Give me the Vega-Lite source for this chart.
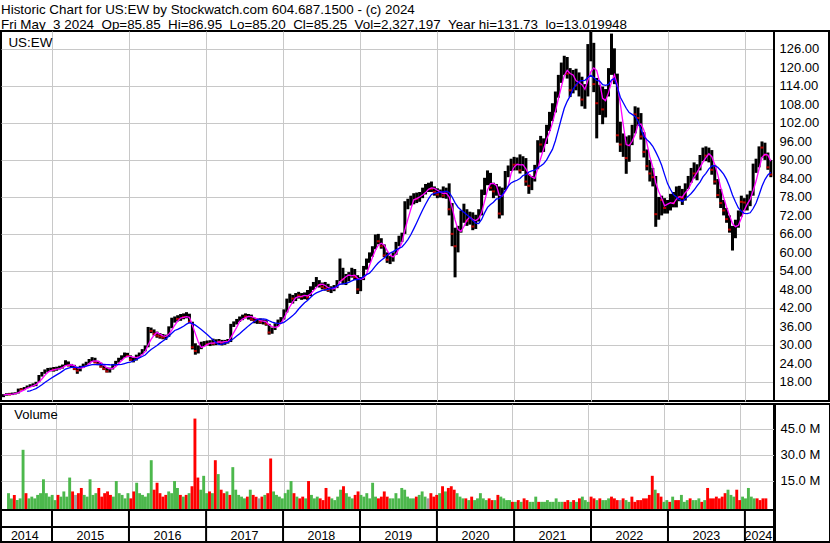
{
"$schema": "https://vega.github.io/schema/vega-lite/v6.json",
"padding": {"left": 0, "top": 3, "right": 0, "bottom": 0},
"background": "white",
"title": {"text": ["Historic Chart for US:EW by Stockwatch.com 604.687.1500 - (c) 2024", "Fri May \u00a03 2024 \u00a0Op=85.85 \u00a0Hi=86.95 \u00a0Lo=85.20 \u00a0Cl=85.25 \u00a0Vol=2,327,197 \u00a0Year hi=131.73 \u00a0lo=13.019948"], "anchor": "start", "frame": "bounds", "fontSize": 13.4, "font": "Liberation Sans", "fontWeight": "normal", "color": "black", "lineHeight": 14.5, "offset": -1, "dx": 1},
"config": {"view": {"stroke": "black", "strokeWidth": 2}, "font": "Liberation Sans", "axis": {"minExtent": 0, "maxExtent": 0}},
"datasets": {
"p": [
{"t":"2014-05-16","h":14.0,"l":13.02,"c":13.7,"v":8,"s":"g"},
{"t":"2014-05-30","h":14.3,"l":13.5,"c":14.1,"v":5,"s":"g"},
{"t":"2014-06-13","h":14.4,"l":13.6,"c":13.9,"v":7,"s":"r"},
{"t":"2014-06-27","h":14.5,"l":13.7,"c":14.2,"v":4,"s":"g"},
{"t":"2014-07-11","h":14.6,"l":13.9,"c":14.3,"v":5,"s":"g"},
{"t":"2014-07-25","h":15.8,"l":14.2,"c":15.6,"v":33,"s":"g"},
{"t":"2014-08-08","h":16.0,"l":15.2,"c":15.5,"v":8,"s":"r"},
{"t":"2014-08-22","h":16.3,"l":15.3,"c":16.1,"v":5,"s":"g"},
{"t":"2014-09-05","h":16.8,"l":15.9,"c":16.6,"v":6,"s":"g"},
{"t":"2014-09-19","h":17.2,"l":16.3,"c":16.9,"v":5,"s":"g"},
{"t":"2014-10-03","h":17.5,"l":16.4,"c":17.0,"v":7,"s":"g"},
{"t":"2014-10-17","h":18.0,"l":16.6,"c":17.8,"v":8,"s":"g"},
{"t":"2014-10-31","h":20.2,"l":18.0,"c":19.9,"v":16,"s":"g"},
{"t":"2014-11-14","h":21.2,"l":19.7,"c":20.9,"v":8,"s":"g"},
{"t":"2014-11-28","h":22.0,"l":20.6,"c":21.7,"v":6,"s":"g"},
{"t":"2014-12-12","h":22.5,"l":21.2,"c":21.8,"v":7,"s":"g"},
{"t":"2014-12-26","h":22.6,"l":21.4,"c":22.2,"v":4,"s":"g"},
{"t":"2015-01-09","h":22.8,"l":21.3,"c":21.9,"v":7,"s":"r"},
{"t":"2015-01-23","h":22.9,"l":21.6,"c":22.5,"v":6,"s":"g"},
{"t":"2015-02-06","h":23.2,"l":22.0,"c":22.6,"v":9,"s":"g"},
{"t":"2015-02-20","h":23.6,"l":22.3,"c":23.4,"v":6,"s":"g"},
{"t":"2015-03-06","h":25.0,"l":23.2,"c":24.4,"v":17,"s":"g"},
{"t":"2015-03-20","h":24.6,"l":23.0,"c":23.3,"v":9,"s":"r"},
{"t":"2015-04-03","h":23.8,"l":22.5,"c":23.0,"v":7,"s":"n"},
{"t":"2015-04-17","h":23.5,"l":21.8,"c":22.2,"v":8,"s":"r"},
{"t":"2015-05-01","h":22.6,"l":20.6,"c":21.6,"v":11,"s":"r"},
{"t":"2015-05-15","h":23.2,"l":21.4,"c":22.9,"v":7,"s":"g"},
{"t":"2015-05-29","h":23.9,"l":22.5,"c":23.6,"v":6,"s":"g"},
{"t":"2015-06-12","h":24.5,"l":23.2,"c":24.2,"v":16,"s":"g"},
{"t":"2015-06-26","h":25.4,"l":23.9,"c":25.0,"v":7,"s":"g"},
{"t":"2015-07-10","h":26.0,"l":24.5,"c":25.6,"v":8,"s":"g"},
{"t":"2015-07-24","h":25.8,"l":24.0,"c":24.3,"v":11,"s":"r"},
{"t":"2015-08-07","h":24.8,"l":23.4,"c":23.8,"v":6,"s":"r"},
{"t":"2015-08-21","h":24.2,"l":22.6,"c":22.9,"v":8,"s":"r"},
{"t":"2015-09-04","h":23.3,"l":21.8,"c":22.2,"v":9,"s":"r"},
{"t":"2015-09-18","h":22.7,"l":21.0,"c":21.4,"v":7,"s":"r"},
{"t":"2015-10-02","h":22.6,"l":21.0,"c":22.3,"v":6,"s":"g"},
{"t":"2015-10-16","h":23.8,"l":22.0,"c":23.5,"v":15,"s":"g"},
{"t":"2015-10-30","h":24.8,"l":23.2,"c":24.5,"v":8,"s":"g"},
{"t":"2015-11-13","h":25.8,"l":24.2,"c":25.4,"v":7,"s":"g"},
{"t":"2015-11-27","h":26.6,"l":25.0,"c":26.3,"v":5,"s":"g"},
{"t":"2015-12-11","h":27.5,"l":25.8,"c":27.0,"v":8,"s":"g"},
{"t":"2015-12-25","h":27.4,"l":26.0,"c":26.4,"v":5,"s":"r"},
{"t":"2016-01-08","h":26.6,"l":24.8,"c":25.2,"v":9,"s":"r"},
{"t":"2016-01-22","h":25.9,"l":24.3,"c":25.5,"v":14,"s":"g"},
{"t":"2016-02-05","h":26.8,"l":24.9,"c":26.4,"v":8,"s":"g"},
{"t":"2016-02-19","h":27.5,"l":25.9,"c":27.2,"v":7,"s":"g"},
{"t":"2016-03-04","h":28.6,"l":26.9,"c":28.2,"v":6,"s":"g"},
{"t":"2016-03-18","h":29.8,"l":27.9,"c":29.4,"v":8,"s":"g"},
{"t":"2016-04-01","h":35.8,"l":29.2,"c":35.0,"v":27,"s":"g"},
{"t":"2016-04-15","h":35.6,"l":33.8,"c":34.5,"v":10,"s":"r"},
{"t":"2016-04-29","h":35.0,"l":33.0,"c":33.6,"v":14,"s":"r"},
{"t":"2016-05-13","h":34.3,"l":32.3,"c":33.0,"v":8,"s":"r"},
{"t":"2016-05-27","h":33.8,"l":32.0,"c":32.7,"v":6,"s":"r"},
{"t":"2016-06-10","h":33.5,"l":31.8,"c":32.4,"v":7,"s":"r"},
{"t":"2016-06-24","h":33.3,"l":31.6,"c":33.0,"v":9,"s":"g"},
{"t":"2016-07-08","h":36.0,"l":32.6,"c":35.6,"v":8,"s":"g"},
{"t":"2016-07-22","h":38.8,"l":35.4,"c":38.2,"v":15,"s":"g"},
{"t":"2016-08-05","h":39.2,"l":37.2,"c":38.6,"v":11,"s":"g"},
{"t":"2016-08-19","h":39.6,"l":37.6,"c":38.4,"v":7,"s":"r"},
{"t":"2016-09-02","h":40.0,"l":37.8,"c":39.5,"v":6,"s":"g"},
{"t":"2016-09-16","h":40.2,"l":38.3,"c":39.0,"v":7,"s":"r"},
{"t":"2016-09-30","h":40.6,"l":38.6,"c":39.8,"v":8,"s":"g"},
{"t":"2016-10-14","h":40.1,"l":37.0,"c":37.5,"v":12,"s":"r"},
{"t":"2016-10-28","h":37.5,"l":28.5,"c":29.2,"v":51,"s":"r"},
{"t":"2016-11-11","h":30.5,"l":26.8,"c":28.0,"v":17,"s":"r"},
{"t":"2016-11-25","h":29.8,"l":27.2,"c":29.0,"v":10,"s":"g"},
{"t":"2016-12-09","h":31.0,"l":28.6,"c":30.4,"v":18,"s":"g"},
{"t":"2016-12-23","h":31.2,"l":29.6,"c":30.6,"v":8,"s":"g"},
{"t":"2017-01-06","h":31.4,"l":29.8,"c":30.2,"v":9,"s":"r"},
{"t":"2017-01-20","h":31.5,"l":29.6,"c":31.0,"v":8,"s":"g"},
{"t":"2017-02-03","h":32.0,"l":29.8,"c":30.4,"v":27,"s":"r"},
{"t":"2017-02-17","h":31.8,"l":29.9,"c":31.4,"v":19,"s":"g"},
{"t":"2017-03-03","h":31.9,"l":30.2,"c":31.0,"v":10,"s":"r"},
{"t":"2017-03-17","h":31.6,"l":29.8,"c":30.6,"v":8,"s":"r"},
{"t":"2017-03-31","h":31.6,"l":30.0,"c":31.2,"v":9,"s":"g"},
{"t":"2017-04-14","h":31.9,"l":30.4,"c":31.0,"v":7,"s":"r"},
{"t":"2017-04-28","h":36.8,"l":30.9,"c":36.5,"v":23,"s":"g"},
{"t":"2017-05-12","h":37.6,"l":35.8,"c":37.2,"v":10,"s":"g"},
{"t":"2017-05-26","h":38.4,"l":36.6,"c":38.0,"v":7,"s":"g"},
{"t":"2017-06-09","h":39.2,"l":37.4,"c":38.7,"v":6,"s":"g"},
{"t":"2017-06-23","h":39.8,"l":38.0,"c":39.5,"v":5,"s":"g"},
{"t":"2017-07-07","h":40.2,"l":38.6,"c":39.2,"v":6,"s":"r"},
{"t":"2017-07-21","h":40.0,"l":38.2,"c":39.6,"v":10,"s":"g"},
{"t":"2017-08-04","h":39.8,"l":37.8,"c":38.3,"v":7,"s":"r"},
{"t":"2017-08-18","h":38.8,"l":37.0,"c":37.8,"v":6,"s":"r"},
{"t":"2017-09-01","h":38.5,"l":36.8,"c":37.9,"v":5,"s":"n"},
{"t":"2017-09-15","h":38.6,"l":36.8,"c":37.4,"v":6,"s":"r"},
{"t":"2017-09-29","h":38.2,"l":36.6,"c":37.6,"v":7,"s":"g"},
{"t":"2017-10-13","h":38.0,"l":36.2,"c":36.8,"v":8,"s":"r"},
{"t":"2017-10-27","h":36.8,"l":33.3,"c":34.0,"v":28,"s":"r"},
{"t":"2017-11-10","h":35.6,"l":33.6,"c":35.2,"v":9,"s":"g"},
{"t":"2017-11-24","h":37.0,"l":34.8,"c":36.6,"v":7,"s":"g"},
{"t":"2017-12-08","h":38.2,"l":36.0,"c":37.8,"v":6,"s":"g"},
{"t":"2017-12-22","h":39.0,"l":37.2,"c":38.6,"v":5,"s":"g"},
{"t":"2018-01-05","h":41.5,"l":38.2,"c":41.0,"v":8,"s":"g"},
{"t":"2018-01-19","h":45.0,"l":40.5,"c":44.6,"v":10,"s":"g"},
{"t":"2018-02-02","h":46.6,"l":43.6,"c":45.2,"v":15,"s":"g"},
{"t":"2018-02-16","h":46.2,"l":43.4,"c":45.0,"v":8,"s":"r"},
{"t":"2018-03-02","h":46.8,"l":44.2,"c":46.2,"v":6,"s":"g"},
{"t":"2018-03-16","h":47.2,"l":45.0,"c":46.0,"v":5,"s":"r"},
{"t":"2018-03-30","h":46.8,"l":44.6,"c":45.6,"v":6,"s":"r"},
{"t":"2018-04-13","h":47.0,"l":44.8,"c":46.4,"v":5,"s":"g"},
{"t":"2018-04-27","h":47.8,"l":44.6,"c":45.4,"v":15,"s":"r"},
{"t":"2018-05-11","h":49.0,"l":45.8,"c":48.4,"v":7,"s":"g"},
{"t":"2018-05-25","h":50.4,"l":47.8,"c":49.8,"v":5,"s":"g"},
{"t":"2018-06-08","h":52.0,"l":48.8,"c":50.6,"v":6,"s":"g"},
{"t":"2018-06-22","h":51.0,"l":48.6,"c":49.4,"v":5,"s":"r"},
{"t":"2018-07-06","h":50.2,"l":48.0,"c":48.8,"v":4,"s":"r"},
{"t":"2018-07-20","h":50.4,"l":47.6,"c":48.2,"v":11,"s":"r"},
{"t":"2018-08-03","h":49.8,"l":47.2,"c":47.8,"v":6,"s":"r"},
{"t":"2018-08-17","h":49.0,"l":46.8,"c":48.2,"v":5,"s":"g"},
{"t":"2018-08-31","h":49.4,"l":47.4,"c":48.6,"v":4,"s":"g"},
{"t":"2018-09-14","h":51.0,"l":48.4,"c":50.6,"v":6,"s":"g"},
{"t":"2018-09-28","h":58.0,"l":50.6,"c":54.6,"v":10,"s":"g"},
{"t":"2018-10-12","h":55.0,"l":49.6,"c":51.2,"v":12,"s":"r"},
{"t":"2018-10-26","h":53.0,"l":49.4,"c":52.0,"v":8,"s":"g"},
{"t":"2018-11-09","h":53.6,"l":50.6,"c":52.8,"v":6,"s":"g"},
{"t":"2018-11-23","h":55.0,"l":51.8,"c":53.6,"v":5,"s":"g"},
{"t":"2018-12-07","h":54.6,"l":51.0,"c":52.0,"v":7,"s":"r"},
{"t":"2018-12-21","h":52.6,"l":46.5,"c":48.0,"v":9,"s":"r"},
{"t":"2019-01-04","h":52.0,"l":47.4,"c":51.4,"v":7,"s":"g"},
{"t":"2019-01-18","h":55.6,"l":51.0,"c":55.0,"v":6,"s":"g"},
{"t":"2019-02-01","h":58.0,"l":54.4,"c":57.2,"v":8,"s":"g"},
{"t":"2019-02-15","h":60.0,"l":56.6,"c":59.4,"v":5,"s":"g"},
{"t":"2019-03-01","h":62.0,"l":58.6,"c":61.6,"v":14,"s":"g"},
{"t":"2019-03-15","h":65.8,"l":61.0,"c":64.6,"v":6,"s":"g"},
{"t":"2019-03-29","h":66.0,"l":62.6,"c":63.6,"v":5,"s":"r"},
{"t":"2019-04-12","h":64.6,"l":61.2,"c":62.0,"v":6,"s":"r"},
{"t":"2019-04-26","h":62.6,"l":58.4,"c":59.0,"v":9,"s":"r"},
{"t":"2019-05-10","h":60.0,"l":56.6,"c":57.6,"v":6,"s":"r"},
{"t":"2019-05-24","h":58.8,"l":56.2,"c":57.8,"v":5,"s":"g"},
{"t":"2019-06-07","h":60.0,"l":57.0,"c":59.6,"v":5,"s":"g"},
{"t":"2019-06-21","h":63.4,"l":59.2,"c":62.8,"v":8,"s":"g"},
{"t":"2019-07-05","h":65.4,"l":62.0,"c":64.4,"v":5,"s":"g"},
{"t":"2019-07-19","h":66.4,"l":63.4,"c":66.0,"v":11,"s":"g"},
{"t":"2019-08-02","h":76.6,"l":66.0,"c":75.8,"v":10,"s":"g"},
{"t":"2019-08-16","h":77.4,"l":74.0,"c":76.6,"v":6,"s":"g"},
{"t":"2019-08-30","h":78.4,"l":75.2,"c":77.6,"v":5,"s":"g"},
{"t":"2019-09-13","h":79.2,"l":75.6,"c":78.2,"v":5,"s":"g"},
{"t":"2019-09-27","h":79.4,"l":76.0,"c":77.4,"v":6,"s":"r"},
{"t":"2019-10-11","h":79.6,"l":76.4,"c":78.6,"v":7,"s":"g"},
{"t":"2019-10-25","h":81.0,"l":77.6,"c":80.4,"v":9,"s":"g"},
{"t":"2019-11-08","h":82.2,"l":78.8,"c":81.2,"v":6,"s":"g"},
{"t":"2019-11-22","h":82.6,"l":79.6,"c":81.6,"v":5,"s":"n"},
{"t":"2019-12-06","h":83.0,"l":79.6,"c":80.6,"v":8,"s":"r"},
{"t":"2019-12-20","h":81.4,"l":78.4,"c":79.6,"v":6,"s":"r"},
{"t":"2020-01-03","h":80.8,"l":77.6,"c":78.8,"v":7,"s":"r"},
{"t":"2020-01-17","h":80.4,"l":77.8,"c":79.6,"v":8,"s":"g"},
{"t":"2020-01-31","h":81.4,"l":77.6,"c":78.4,"v":12,"s":"r"},
{"t":"2020-02-14","h":81.0,"l":77.4,"c":80.0,"v":9,"s":"g"},
{"t":"2020-02-28","h":82.4,"l":72.0,"c":74.0,"v":11,"s":"r"},
{"t":"2020-03-13","h":76.0,"l":62.0,"c":66.0,"v":12,"s":"r"},
{"t":"2020-03-27","h":68.0,"l":51.9,"c":62.0,"v":10,"s":"r"},
{"t":"2020-04-10","h":68.6,"l":60.0,"c":67.6,"v":8,"s":"g"},
{"t":"2020-04-24","h":73.6,"l":66.4,"c":71.6,"v":6,"s":"g"},
{"t":"2020-05-08","h":75.8,"l":69.6,"c":72.4,"v":5,"s":"g"},
{"t":"2020-05-22","h":74.0,"l":68.6,"c":70.2,"v":5,"s":"r"},
{"t":"2020-06-05","h":73.2,"l":69.0,"c":71.6,"v":4,"s":"g"},
{"t":"2020-06-19","h":73.0,"l":67.2,"c":68.4,"v":6,"s":"r"},
{"t":"2020-07-03","h":72.2,"l":67.6,"c":71.0,"v":4,"s":"g"},
{"t":"2020-07-17","h":74.0,"l":70.0,"c":72.8,"v":5,"s":"g"},
{"t":"2020-07-31","h":80.4,"l":72.0,"c":79.4,"v":8,"s":"g"},
{"t":"2020-08-14","h":84.2,"l":78.6,"c":83.2,"v":5,"s":"g"},
{"t":"2020-08-28","h":86.6,"l":81.8,"c":85.6,"v":4,"s":"g"},
{"t":"2020-09-11","h":85.8,"l":80.0,"c":81.0,"v":5,"s":"r"},
{"t":"2020-09-25","h":82.6,"l":77.6,"c":79.8,"v":4,"s":"r"},
{"t":"2020-10-09","h":82.2,"l":78.4,"c":80.6,"v":4,"s":"g"},
{"t":"2020-10-23","h":81.4,"l":71.0,"c":72.6,"v":7,"s":"r"},
{"t":"2020-11-06","h":81.0,"l":72.0,"c":80.2,"v":6,"s":"g"},
{"t":"2020-11-20","h":86.4,"l":80.2,"c":85.4,"v":5,"s":"g"},
{"t":"2020-12-04","h":88.2,"l":84.4,"c":87.4,"v":4,"s":"g"},
{"t":"2020-12-18","h":90.4,"l":86.4,"c":89.6,"v":4,"s":"g"},
{"t":"2021-01-01","h":91.0,"l":86.6,"c":88.4,"v":3,"s":"r"},
{"t":"2021-01-15","h":90.8,"l":86.6,"c":89.0,"v":3,"s":"g"},
{"t":"2021-01-29","h":91.8,"l":85.6,"c":86.6,"v":4,"s":"r"},
{"t":"2021-02-12","h":91.2,"l":86.4,"c":89.8,"v":3,"s":"g"},
{"t":"2021-02-26","h":90.6,"l":81.6,"c":83.0,"v":5,"s":"r"},
{"t":"2021-03-12","h":85.4,"l":79.0,"c":81.6,"v":4,"s":"r"},
{"t":"2021-03-26","h":84.8,"l":80.2,"c":83.6,"v":3,"s":"g"},
{"t":"2021-04-09","h":88.4,"l":83.0,"c":87.8,"v":3,"s":"g"},
{"t":"2021-04-23","h":96.4,"l":87.0,"c":95.4,"v":6,"s":"g"},
{"t":"2021-05-07","h":97.8,"l":92.4,"c":95.0,"v":3,"s":"r"},
{"t":"2021-05-21","h":97.0,"l":92.6,"c":95.8,"v":3,"s":"g"},
{"t":"2021-06-04","h":101.4,"l":95.2,"c":100.6,"v":3,"s":"g"},
{"t":"2021-06-18","h":105.6,"l":99.4,"c":104.6,"v":4,"s":"g"},
{"t":"2021-07-02","h":108.4,"l":102.6,"c":106.8,"v":3,"s":"g"},
{"t":"2021-07-16","h":112.2,"l":105.4,"c":111.0,"v":3,"s":"g"},
{"t":"2021-07-30","h":117.6,"l":110.2,"c":116.8,"v":5,"s":"g"},
{"t":"2021-08-13","h":121.6,"l":115.0,"c":119.8,"v":3,"s":"g"},
{"t":"2021-08-27","h":123.8,"l":117.6,"c":121.8,"v":3,"s":"g"},
{"t":"2021-09-10","h":123.4,"l":116.4,"c":118.0,"v":3,"s":"r"},
{"t":"2021-09-24","h":119.8,"l":110.4,"c":112.6,"v":4,"s":"r"},
{"t":"2021-10-08","h":119.2,"l":111.6,"c":117.8,"v":3,"s":"g"},
{"t":"2021-10-22","h":119.6,"l":112.6,"c":114.2,"v":4,"s":"r"},
{"t":"2021-11-05","h":118.4,"l":110.6,"c":116.0,"v":3,"s":"g"},
{"t":"2021-11-19","h":117.0,"l":107.4,"c":109.6,"v":5,"s":"r"},
{"t":"2021-12-03","h":114.6,"l":106.6,"c":111.8,"v":6,"s":"g"},
{"t":"2021-12-17","h":127.6,"l":110.6,"c":126.0,"v":4,"s":"g"},
{"t":"2021-12-31","h":131.73,"l":122.0,"c":127.0,"v":3,"s":"g"},
{"t":"2022-01-14","h":128.0,"l":112.0,"c":114.6,"v":6,"s":"r"},
{"t":"2022-01-28","h":116.6,"l":97.0,"c":108.4,"v":5,"s":"r"},
{"t":"2022-02-11","h":114.4,"l":104.6,"c":110.6,"v":4,"s":"g"},
{"t":"2022-02-25","h":113.8,"l":101.6,"c":106.4,"v":5,"s":"r"},
{"t":"2022-03-11","h":113.0,"l":103.8,"c":111.6,"v":4,"s":"g"},
{"t":"2022-03-25","h":119.8,"l":110.6,"c":118.8,"v":4,"s":"g"},
{"t":"2022-04-08","h":131.0,"l":117.6,"c":124.2,"v":5,"s":"g"},
{"t":"2022-04-22","h":126.2,"l":114.6,"c":116.0,"v":6,"s":"r"},
{"t":"2022-05-06","h":118.0,"l":95.6,"c":98.0,"v":5,"s":"r"},
{"t":"2022-05-20","h":102.4,"l":92.6,"c":95.0,"v":4,"s":"r"},
{"t":"2022-06-03","h":98.6,"l":91.0,"c":96.4,"v":4,"s":"n"},
{"t":"2022-06-17","h":97.6,"l":85.5,"c":90.6,"v":5,"s":"r"},
{"t":"2022-07-01","h":98.0,"l":89.4,"c":96.6,"v":4,"s":"g"},
{"t":"2022-07-15","h":101.4,"l":94.8,"c":100.6,"v":3,"s":"g"},
{"t":"2022-07-29","h":107.4,"l":98.6,"c":104.8,"v":6,"s":"r"},
{"t":"2022-08-12","h":107.0,"l":101.0,"c":103.6,"v":3,"s":"r"},
{"t":"2022-08-26","h":105.2,"l":96.6,"c":97.6,"v":4,"s":"r"},
{"t":"2022-09-09","h":99.0,"l":90.8,"c":92.6,"v":4,"s":"r"},
{"t":"2022-09-23","h":93.4,"l":86.6,"c":88.0,"v":5,"s":"r"},
{"t":"2022-10-07","h":90.0,"l":83.0,"c":85.6,"v":5,"s":"r"},
{"t":"2022-10-21","h":87.4,"l":81.4,"c":84.4,"v":7,"s":"r"},
{"t":"2022-11-04","h":84.8,"l":68.3,"c":72.4,"v":18,"s":"r"},
{"t":"2022-11-18","h":78.0,"l":70.6,"c":76.6,"v":10,"s":"g"},
{"t":"2022-12-02","h":78.4,"l":72.0,"c":77.0,"v":8,"s":"r"},
{"t":"2022-12-16","h":77.6,"l":72.6,"c":74.4,"v":6,"s":"r"},
{"t":"2022-12-30","h":77.0,"l":72.6,"c":74.6,"v":3,"s":"g"},
{"t":"2023-01-13","h":79.0,"l":73.6,"c":78.4,"v":4,"s":"g"},
{"t":"2023-01-27","h":79.6,"l":74.6,"c":76.0,"v":3,"s":"r"},
{"t":"2023-02-10","h":81.4,"l":74.6,"c":80.0,"v":6,"s":"g"},
{"t":"2023-02-24","h":81.6,"l":76.6,"c":78.0,"v":4,"s":"r"},
{"t":"2023-03-10","h":80.6,"l":75.4,"c":77.6,"v":4,"s":"r"},
{"t":"2023-03-24","h":82.4,"l":76.8,"c":81.8,"v":7,"s":"g"},
{"t":"2023-04-07","h":84.8,"l":80.6,"c":84.0,"v":3,"s":"g"},
{"t":"2023-04-21","h":87.4,"l":82.6,"c":86.4,"v":4,"s":"g"},
{"t":"2023-05-05","h":89.2,"l":84.0,"c":85.6,"v":5,"s":"r"},
{"t":"2023-05-19","h":88.6,"l":83.4,"c":87.8,"v":4,"s":"g"},
{"t":"2023-06-02","h":91.6,"l":86.6,"c":90.6,"v":4,"s":"g"},
{"t":"2023-06-16","h":94.0,"l":89.6,"c":93.2,"v":5,"s":"g"},
{"t":"2023-06-30","h":94.4,"l":89.6,"c":91.4,"v":3,"s":"r"},
{"t":"2023-07-14","h":94.0,"l":89.2,"c":92.8,"v":4,"s":"g"},
{"t":"2023-07-28","h":93.2,"l":85.2,"c":86.8,"v":11,"s":"r"},
{"t":"2023-08-11","h":88.4,"l":82.0,"c":83.0,"v":5,"s":"r"},
{"t":"2023-08-25","h":83.8,"l":77.6,"c":78.6,"v":5,"s":"r"},
{"t":"2023-09-08","h":80.6,"l":74.4,"c":76.0,"v":6,"s":"r"},
{"t":"2023-09-22","h":77.0,"l":72.0,"c":73.6,"v":5,"s":"r"},
{"t":"2023-10-06","h":74.4,"l":69.6,"c":70.8,"v":6,"s":"r"},
{"t":"2023-10-20","h":72.0,"l":66.4,"c":67.4,"v":8,"s":"r"},
{"t":"2023-11-03","h":68.6,"l":60.6,"c":65.6,"v":10,"s":"g"},
{"t":"2023-11-17","h":70.6,"l":64.6,"c":69.6,"v":7,"s":"g"},
{"t":"2023-12-01","h":73.6,"l":68.0,"c":72.6,"v":6,"s":"g"},
{"t":"2023-12-15","h":78.4,"l":71.6,"c":76.4,"v":10,"s":"r"},
{"t":"2023-12-29","h":77.6,"l":73.6,"c":76.2,"v":4,"s":"r"},
{"t":"2024-01-12","h":78.8,"l":73.6,"c":77.4,"v":6,"s":"g"},
{"t":"2024-01-26","h":80.0,"l":75.0,"c":78.8,"v":5,"s":"g"},
{"t":"2024-02-09","h":88.8,"l":78.4,"c":87.6,"v":11,"s":"g"},
{"t":"2024-02-23","h":90.4,"l":85.8,"c":88.8,"v":6,"s":"g"},
{"t":"2024-03-08","h":94.4,"l":87.6,"c":93.0,"v":5,"s":"g"},
{"t":"2024-03-22","h":96.0,"l":90.8,"c":94.0,"v":5,"s":"r"},
{"t":"2024-04-05","h":95.6,"l":90.0,"c":91.6,"v":4,"s":"r"},
{"t":"2024-04-19","h":92.4,"l":86.8,"c":87.6,"v":5,"s":"r"},
{"t":"2024-05-03","h":90.0,"l":84.4,"c":85.25,"v":5,"s":"r"}
],
"bd": [{"d":"2015-01-01"},{"d":"2016-01-01"},{"d":"2017-01-01"},{"d":"2018-01-01"},{"d":"2019-01-01"},{"d":"2020-01-01"},{"d":"2021-01-01"},{"d":"2022-01-01"},{"d":"2023-01-01"},{"d":"2024-01-01"}],
"yl": [{"y":"2014","m":"2014-08-25"},{"y":"2015","m":"2015-07-02"},{"y":"2016","m":"2016-07-02"},{"y":"2017","m":"2017-07-02"},{"y":"2018","m":"2018-07-02"},{"y":"2019","m":"2019-07-02"},{"y":"2020","m":"2020-07-02"},{"y":"2021","m":"2021-07-02"},{"y":"2022","m":"2022-07-02"},{"y":"2023","m":"2023-07-02"},{"y":"2024","m":"2024-03-05"}]
},
"spacing": 1,
"resolve": {"scale": {"x": "independent", "y": "independent", "color": "independent"}},
"vconcat": [
{
"spacing": 0,
"bounds": "flush",
"resolve": {"scale": {"x": "independent", "y": "independent"}},
"hconcat": [
{
"width": 773, "height": 370,
"data": {"name": "p"},
"layer": [
{"mark": {"type": "rule", "color": "black", "strokeWidth": 3, "clip": true},
"encoding": {
"x": {"field": "t", "type": "temporal", "scale": {"domain": [{"year": 2014, "month": 5, "date": 4}, {"year": 2024, "month": 5, "date": 18}]}, "axis": {"values": [{"year":2015,"month":1,"date":1},{"year":2016,"month":1,"date":1},{"year":2017,"month":1,"date":1},{"year":2018,"month":1,"date":1},{"year":2019,"month":1,"date":1},{"year":2020,"month":1,"date":1},{"year":2021,"month":1,"date":1},{"year":2022,"month":1,"date":1},{"year":2023,"month":1,"date":1},{"year":2024,"month":1,"date":1}], "grid": true, "gridColor": "#c8c8c8", "gridWidth": 1, "gridOpacity": 1, "labels": false, "ticks": false, "domain": false, "title": null}},
"y": {"field": "l", "type": "quantitative", "scale": {"domain": [11.77, 131.84], "nice": false, "zero": false}, "axis": {"values": [18,24,30,36,42,48,54,60,66,72,78,84,90,96,102,108,114,120,126], "grid": true, "gridColor": "#c8c8c8", "gridWidth": 1, "gridOpacity": 1, "labels": false, "ticks": false, "domain": false, "title": null}},
"y2": {"field": "h"}
}},
{"transform": [{"filter": "datum.s == 'r'"}],
"mark": {"type": "tick", "orient": "horizontal", "color": "#ff0000", "thickness": 2, "size": 3, "clip": true},
"encoding": {"x": {"field": "t", "type": "temporal"}, "y": {"field": "c", "type": "quantitative"}}},
{"transform": [{"window": [{"op": "mean", "field": "c", "as": "m"}], "frame": [-3, 0], "sort": [{"field": "t"}]}],
"mark": {"type": "line", "color": "#ff00ff", "strokeWidth": 1.3, "clip": true},
"encoding": {"x": {"field": "t", "type": "temporal"}, "y": {"field": "m", "type": "quantitative"}}},
{"transform": [{"window": [{"op": "mean", "field": "c", "as": "b"}, {"op": "count", "as": "n"}], "frame": [-9, 0], "sort": [{"field": "t"}]}, {"filter": "datum.n >= 9"}],
"mark": {"type": "line", "color": "#0000ff", "strokeWidth": 1.3, "clip": true},
"encoding": {"x": {"field": "t", "type": "temporal"}, "y": {"field": "b", "type": "quantitative"}}},
{"data": {"values": [{}]},
"mark": {"type": "text", "align": "left", "baseline": "alphabetic", "fontSize": 13.4, "font": "Liberation Sans", "color": "black"},
"encoding": {"x": {"datum": {"year": 2014, "month": 6, "date": 8}, "type": "temporal"}, "y": {"datum": 126.6, "type": "quantitative"}, "text": {"value": "US:EW"}}}
]
},
{
"width": 55, "height": 370,
"data": {"values": [{"c": 50}]},
"mark": {"type": "point", "opacity": 0},
"encoding": {"y": {"field": "c", "type": "quantitative", "scale": {"domain": [11.77, 131.84], "nice": false, "zero": false}, "axis": {"orient": "left", "values": [18,24,30,36,42,48,54,60,66,72,78,84,90,96,102,108,114,120,126], "format": ".2f", "labelAlign": "left", "labelBaseline": "middle", "labelPadding": -5, "ticks": false, "tickSize": 0, "domain": false, "grid": false, "labelFontSize": 13, "labelColor": "black", "labelFont": "Liberation Sans", "labelOverlap": false, "labelBound": false, "labelFlush": false, "title": null}}}
}
]
},
{
"spacing": -2,
"resolve": {"scale": {"x": "independent", "y": "independent"}},
"hconcat": [
{
"spacing": 0,
"bounds": "flush",
"resolve": {"scale": {"x": "independent", "y": "independent"}},
"vconcat": [
{
"width": 773, "height": 106,
"data": {"name": "p"},
"layer": [
{"mark": {"type": "bar", "width": 2.9, "clip": true},
"encoding": {
"x": {"field": "t", "type": "temporal", "scale": {"domain": [{"year": 2014, "month": 5, "date": 4}, {"year": 2024, "month": 5, "date": 18}]}, "axis": {"values": [{"year":2015,"month":1,"date":1},{"year":2016,"month":1,"date":1},{"year":2017,"month":1,"date":1},{"year":2018,"month":1,"date":1},{"year":2019,"month":1,"date":1},{"year":2020,"month":1,"date":1},{"year":2021,"month":1,"date":1},{"year":2022,"month":1,"date":1},{"year":2023,"month":1,"date":1},{"year":2024,"month":1,"date":1}], "grid": true, "gridColor": "#c8c8c8", "gridWidth": 1, "gridOpacity": 1, "labels": false, "ticks": false, "domain": false, "title": null}},
"y": {"field": "v", "type": "quantitative", "scale": {"domain": [-1.7, 59.4], "nice": false, "zero": false}, "axis": {"values": [15, 30, 45], "grid": true, "gridColor": "#c8c8c8", "gridWidth": 1, "gridOpacity": 1, "labels": false, "ticks": false, "domain": false, "title": null}},
"y2": {"datum": -1.7},
"color": {"field": "s", "type": "nominal", "scale": {"domain": ["g", "r", "n"], "range": ["#4cb84c", "#ff0000", "#a0a0a0"]}, "legend": null}
}},
{"data": {"values": [{}]},
"mark": {"type": "text", "align": "left", "baseline": "alphabetic", "fontSize": 13, "font": "Liberation Sans", "color": "black"},
"encoding": {"x": {"datum": {"year": 2014, "month": 6, "date": 13}, "type": "temporal"}, "y": {"datum": 50.9, "type": "quantitative"}, "text": {"value": "Volume"}}}
]
},
{
"width": 773, "height": 17,
"data": {"name": "bd"},
"mark": {"type": "rule", "color": "black", "strokeWidth": 2},
"encoding": {"x": {"field": "d", "type": "temporal", "scale": {"domain": [{"year": 2014, "month": 5, "date": 4}, {"year": 2024, "month": 5, "date": 18}]}, "axis": null}}
},
{
"width": 773, "height": 15,
"layer": [
{"data": {"name": "bd"},
"mark": {"type": "rule", "color": "black", "strokeWidth": 2},
"encoding": {"x": {"field": "d", "type": "temporal", "scale": {"domain": [{"year": 2014, "month": 5, "date": 4}, {"year": 2024, "month": 5, "date": 18}]}, "axis": null}}},
{"data": {"name": "yl"},
"mark": {"type": "text", "fontSize": 12.5, "font": "Liberation Sans", "color": "black", "baseline": "middle", "dy": 1},
"encoding": {"x": {"field": "m", "type": "temporal"}, "text": {"field": "y"}}}
]
}
]
},
{
"width": 55, "height": 138,
"data": {"values": [{"v": 0}]},
"mark": {"type": "point", "opacity": 0},
"encoding": {"y": {"field": "v", "type": "quantitative", "scale": {"domain": [-20.2, 59.4], "nice": false, "zero": false}, "axis": {"orient": "left", "values": [15, 30, 45], "labelExpr": "format(datum.value, '.1f') + ' M'", "labelAlign": "left", "labelBaseline": "middle", "labelPadding": -5, "ticks": false, "tickSize": 0, "domain": false, "grid": false, "labelFontSize": 13, "labelColor": "black", "labelFont": "Liberation Sans", "labelOverlap": false, "labelBound": false, "labelFlush": false, "title": null}}}
}
]
}
]
}
